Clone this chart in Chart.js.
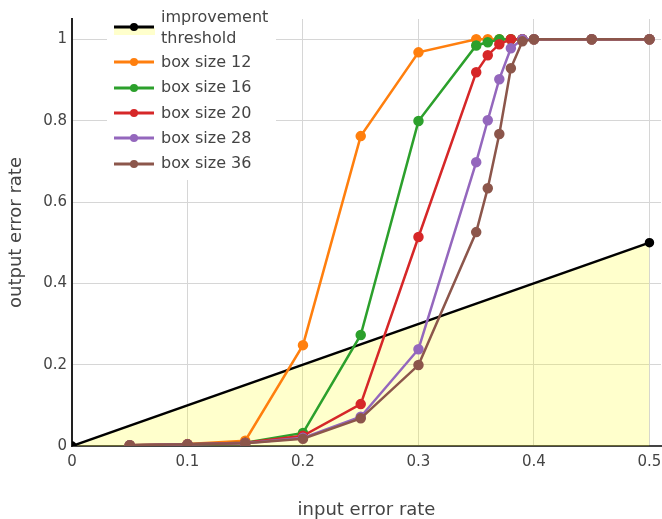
<!DOCTYPE html>
<html>
<head>
<meta charset="utf-8">
<script src="https://cdn.jsdelivr.net/npm/chart.js@4/dist/chart.umd.min.js"></script>
<style>
  html, body { margin: 0; padding: 0; background: #ffffff; }
  #wrap { width: 662px; height: 519px; position: relative; }
</style>
</head>
<body>
<div id="wrap"><canvas id="c" width="662" height="519"></canvas></div>
<script>
// ---- data ----
const xValues = [0.05, 0.1, 0.15, 0.2, 0.25, 0.3, 0.35, 0.36, 0.37, 0.38, 0.39, 0.4, 0.45, 0.5];
const box12 = [0.002, 0.005, 0.013, 0.248, 0.762, 0.968, 1, 1, 1, 1, 1, 1, 1, 1];
const box16 = [0.002, 0.004, 0.008, 0.032, 0.273, 0.799, 0.985, 0.993, 1, 1, 1, 1, 1, 1];
const box20 = [0.002, 0.004, 0.008, 0.025, 0.103, 0.514, 0.919, 0.961, 0.988, 1, 1, 1, 1, 1];
const box28 = [0.002, 0.004, 0.007, 0.020, 0.072, 0.238, 0.698, 0.801, 0.902, 0.978, 1, 1, 1, 1];
const box36 = [0.002, 0.004, 0.007, 0.018, 0.068, 0.199, 0.526, 0.634, 0.767, 0.929, 0.995, 1, 1, 1];
const thresholdX = [0, 0.5];
const thresholdY = [0, 0.5];
const seriesLabels = ['improvement threshold', 'box size 12', 'box size 16', 'box size 20', 'box size 28', 'box size 36'];
const legendLines = [['improvement', 'threshold'], ['box size 12'], ['box size 16'], ['box size 20'], ['box size 28'], ['box size 36']];
const xTickValues = [0, 0.1, 0.2, 0.3, 0.4, 0.5];
const xTickLabels = ['0', '0.1', '0.2', '0.3', '0.4', '0.5'];
const yTickValues = [0, 0.2, 0.4, 0.6, 0.8, 1];
const yTickLabels = ['0', '0.2', '0.4', '0.6', '0.8', '1'];
const xAxisTitle = 'input error rate';
const yAxisTitle = 'output error rate';

// ---- styles ----
const colors = ['#000000', '#ff7f0e', '#2ca02c', '#d62728', '#9467bd', '#8c564b'];
const FONT = '"DejaVu Sans", sans-serif';
const TEXT = '#444444';

const toPts = (xs, ys) => xs.map((x, i) => ({ x: x, y: ys[i] }));
const seriesValues = [box12, box16, box20, box28, box36];

const datasets = [{
  label: seriesLabels[0],
  data: toPts(thresholdX, thresholdY),
  borderColor: colors[0],
  backgroundColor: 'rgba(255,255,0,0.2)',
  pointBackgroundColor: colors[0],
  pointBorderColor: colors[0],
  pointRadius: 3.5,
  borderWidth: 2.5,
  fill: 'origin',
  order: 10
}];
seriesValues.forEach((vals, i) => {
  datasets.push({
    label: seriesLabels[i + 1],
    data: toPts(xValues, vals),
    borderColor: colors[i + 1],
    backgroundColor: colors[i + 1],
    pointBackgroundColor: colors[i + 1],
    pointBorderColor: colors[i + 1],
    pointRadius: 4,
    borderWidth: 2.5,
    fill: false,
    order: 9 - i
  });
});

const legendPlugin = {
  id: 'insideLegend',
  afterDraw(chart) {
    const ctx = chart.ctx;
    ctx.save();
    ctx.fillStyle = '#ffffff';
    ctx.fillRect(107, 0, 169, 180);
    const textRows = [[18, 39], [63], [88], [114], [139], [164]];
    const lineRows = [27, 62, 88, 113, 138, 164];
    ctx.font = '16px ' + FONT;
    ctx.textBaseline = 'middle';
    ctx.textAlign = 'left';
    legendLines.forEach((lines, i) => {
      const ly = lineRows[i];
      if (i === 0) {
        ctx.fillStyle = '#ffffcc';
        ctx.fillRect(114, 28, 41, 7);
      }
      ctx.strokeStyle = colors[i];
      ctx.lineWidth = 3;
      ctx.beginPath();
      ctx.moveTo(114, ly);
      ctx.lineTo(154, ly);
      ctx.stroke();
      ctx.fillStyle = colors[i];
      ctx.beginPath();
      ctx.arc(134, ly, 4, 0, Math.PI * 2);
      ctx.fill();
      ctx.fillStyle = TEXT;
      lines.forEach((t, j) => ctx.fillText(t, 161, textRows[i][j]));
    });
    ctx.restore();
  }
};

new Chart(document.getElementById('c'), {
  type: 'line',
  data: { datasets: datasets },
  plugins: [legendPlugin],
  options: {
    responsive: false,
    animation: false,
    devicePixelRatio: 1,
    layout: { autoPadding: false, padding: { top: 19, right: 1, bottom: 0, left: 0 } },
    plugins: { legend: { display: false }, tooltip: { enabled: false } },
    elements: { line: { tension: 0 } },
    scales: {
      x: {
        type: 'linear',
        min: 0,
        max: 0.51,
        afterBuildTicks: (s) => { s.ticks = xTickValues.map(v => ({ value: v })); },
        afterFit: (s) => { s.height = 73; s.paddingLeft = 0; s.paddingRight = 0; },
        ticks: {
          callback: (v) => { const k = xTickValues.indexOf(v); return k >= 0 ? xTickLabels[k] : ''; },
          font: { family: FONT, size: 15 },
          color: TEXT,
          padding: 7,
          maxRotation: 0,
          autoSkip: false
        },
        grid: { color: '#d6d6d6', lineWidth: 1, drawTicks: false },
        border: { color: '#444444', width: 2 },
        title: {
          display: true,
          text: xAxisTitle,
          font: { family: FONT, size: 18, lineHeight: 1 },
          color: TEXT,
          padding: { top: 0, bottom: 0 }
        }
      },
      y: {
        type: 'linear',
        min: 0,
        max: 1.05,
        afterBuildTicks: (s) => { s.ticks = yTickValues.map(v => ({ value: v })); },
        afterFit: (s) => { s.width = 72; s.paddingTop = 0; s.paddingBottom = 0; },
        ticks: {
          callback: (v) => { const k = yTickValues.indexOf(v); return k >= 0 ? yTickLabels[k] : ''; },
          font: { family: FONT, size: 15 },
          color: TEXT,
          padding: 5,
          autoSkip: false
        },
        grid: { color: '#d6d6d6', lineWidth: 1, drawTicks: false },
        border: { color: '#222222', width: 2 },
        title: {
          display: true,
          text: yAxisTitle,
          font: { family: FONT, size: 18, lineHeight: 1 },
          color: TEXT,
          padding: { top: 7, bottom: 0 }
        }
      }
    }
  }
});
</script>
</body>
</html>
